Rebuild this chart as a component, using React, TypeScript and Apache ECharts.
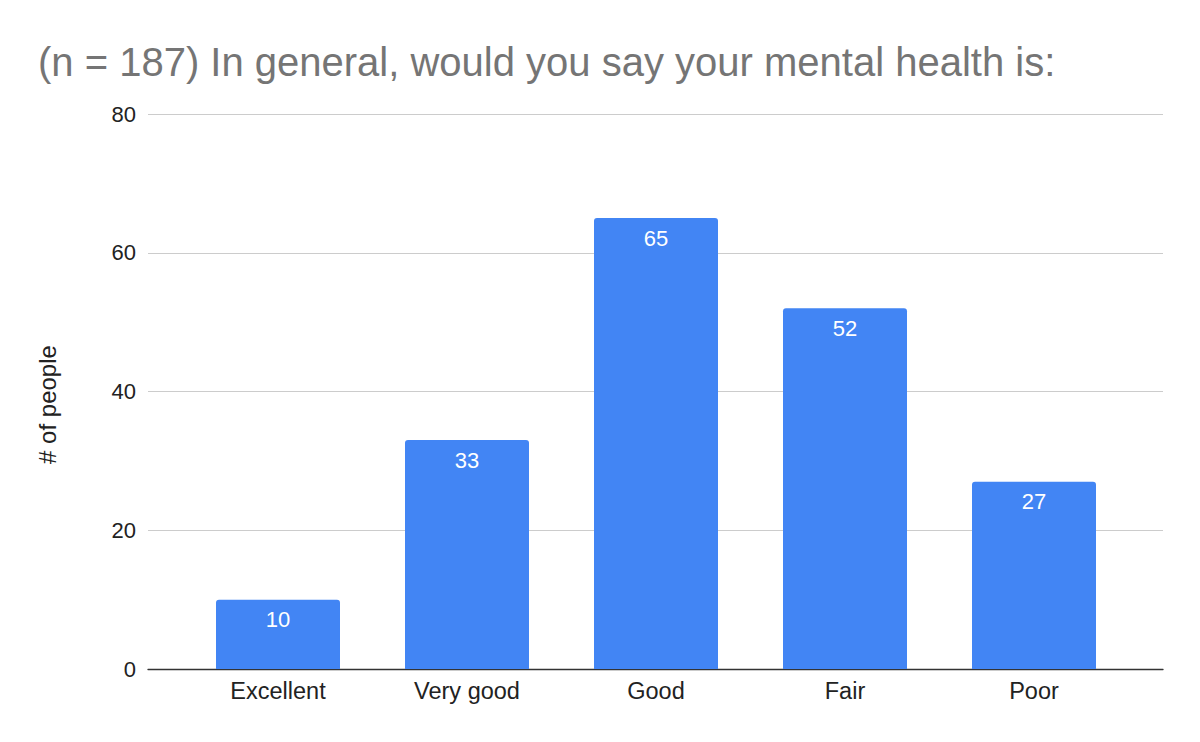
import React, { useEffect, useRef } from "react";
import * as echarts from "echarts";

const categories = ["Excellent", "Very good", "Good", "Fair", "Poor"];
const people = [10, 33, 65, 52, 27];
const yTicks = { min: 0, max: 80, interval: 20 };
const titleText = "(n = 187) In general, would you say your mental health is:";
const yName = "# of people";

export default function App() {
  const ref = useRef<HTMLDivElement>(null);
  useEffect(() => {
    if (!ref.current) return;
    document.body.style.margin = "0";
    const chart = echarts.init(ref.current, null, { renderer: "svg" });
    const font = "'Liberation Sans', Arial, sans-serif";
    chart.setOption({
      animation: false,
      textStyle: { fontFamily: font },
      title: {
        text: titleText,
        left: 33,
        top: 37,
        textStyle: { fontSize: 40, fontWeight: "normal", color: "#757575", fontFamily: font },
      },
      grid: [
        { left: 148, right: 37, top: 114, bottom: 73 },
        { left: 183.5, right: 71.5, top: 114, bottom: 73 },
      ],
      xAxis: [
        {
          type: "category",
          gridIndex: 0,
          data: categories,
          axisLine: { show: true, lineStyle: { color: "#333", width: 1.3 } },
          axisTick: { show: false },
          axisLabel: { show: false },
          splitLine: { show: false },
        },
        {
          type: "category",
          gridIndex: 1,
          data: categories,
          axisLine: { show: false },
          axisTick: { show: false },
          axisLabel: { color: "#222", fontSize: 23.5, margin: 10, fontFamily: font },
        },
      ],
      yAxis: [
        {
          type: "value",
          gridIndex: 0,
          min: yTicks.min,
          max: yTicks.max,
          interval: yTicks.interval,
          name: yName,
          nameLocation: "middle",
          nameGap: 89,
          nameTextStyle: { color: "#222", fontSize: 24, fontFamily: font, padding: [0, 26, 0, 0] },
          axisLine: { show: false },
          axisTick: { show: false },
          axisLabel: { color: "#222", fontSize: 22, margin: 12, fontFamily: font },
          splitLine: { lineStyle: { color: "#cccccc", width: 1 } },
        },
        {
          type: "value",
          gridIndex: 1,
          min: yTicks.min,
          max: yTicks.max,
          interval: yTicks.interval,
          show: false,
          splitLine: { show: false },
        },
      ],
      series: [
        {
          type: "bar",
          xAxisIndex: 1,
          yAxisIndex: 1,
          data: people,
          barWidth: 124,
          itemStyle: { color: "#4285F4", borderRadius: [3, 3, 0, 0] },
          label: {
            show: true,
            position: "insideTop",
            distance: 9,
            color: "#ffffff",
            fontSize: 22,
            fontFamily: font,
          },
        },
      ],
    });
    return () => chart.dispose();
  }, []);
  return <div ref={ref} style={{ width: 1200, height: 742 }} />;
}
